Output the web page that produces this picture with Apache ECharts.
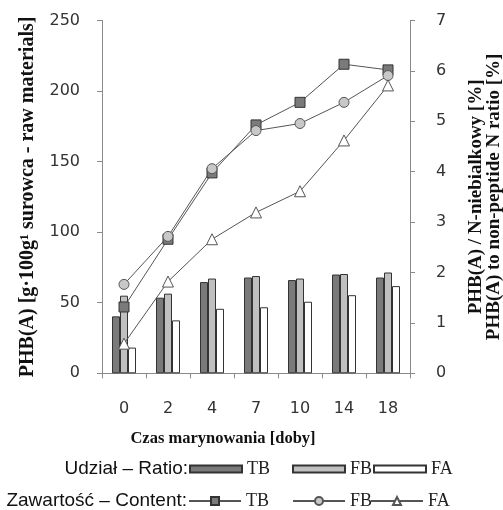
<!DOCTYPE html>
<html>
<head>
<meta charset="utf-8">
<script src="https://cdn.jsdelivr.net/npm/echarts@6/dist/echarts.min.js"></script>
<style>
html,body{margin:0;padding:0;background:#fff;}
#chart{width:503px;height:510px;}
</style>
</head>
<body>
<div id="chart"></div>
<script>
const categories = ['0', '2', '4', '7', '10', '14', '18'];
const ratioTB = [1.13, 1.50, 1.81, 1.90, 1.85, 1.96, 1.90];
const ratioFB = [1.54, 1.58, 1.88, 1.93, 1.88, 1.97, 2.00];
const ratioFA = [0.51, 1.05, 1.28, 1.31, 1.42, 1.55, 1.73];
const contentTB = [47, 95, 142, 176, 192, 219, 215];
const contentFB = [63, 97, 145, 172, 177, 192, 211];
const contentFA = [21, 65, 95, 114, 129, 165, 204];
const leftTicks = [0, 50, 100, 150, 200, 250];
const rightTicks = [0, 1, 2, 3, 4, 5, 6, 7];

const chart = echarts.init(document.getElementById('chart'), null, {renderer: 'canvas'});
const axisColor = '#8a8a8a';
const tickFont = {fontFamily: 'DejaVu Sans', fontSize: 16, color: '#333'};
const titleFont = {fontFamily: 'Liberation Serif', fontWeight: 'bold', color: '#111'};
const legText = {fontFamily: 'Liberation Serif', fontSize: 18, color: '#222'};
const lineColor = '#555';

function legendItem(name, left, top, h, icon) {
  const o = {
    data: [name], left: left, top: top, itemWidth: 52, itemHeight: h,
    formatter: function (n) { return n.split('-')[0]; },
    textStyle: legText, selectedMode: false, padding: 0
  };
  if (icon) o.icon = icon;
  return o;
}

chart.setOption({
  animation: false,
  backgroundColor: '#fff',
  grid: {left: 102, right: 93, top: 20.5, bottom: 136.7, containLabel: false, outerBoundsMode: 'none'},
  xAxis: {
    type: 'category', data: categories,
    axisLine: {lineStyle: {color: axisColor}},
    axisTick: {show: true, length: 5, lineStyle: {color: axisColor}},
    axisLabel: Object.assign({margin: 28}, tickFont),
    name: 'Czas marynowania [doby]', nameLocation: 'middle', nameGap: 57,
    nameTextStyle: Object.assign({fontSize: 16.5, padding: [0, 66, 0, 0]}, titleFont)
  },
  yAxis: [{
    type: 'value', min: 0, max: 250, interval: 50, position: 'left',
    axisLine: {show: true, lineStyle: {color: axisColor}},
    axisTick: {show: true, length: 5, lineStyle: {color: axisColor}},
    splitLine: {show: false},
    axisLabel: Object.assign({margin: 22, formatter: function (v) { return leftTicks.indexOf(v) >= 0 ? String(v) : ''; }}, tickFont),
    name: 'PHB(A) [g·100g¹ surowca - raw materials]', nameLocation: 'middle', nameGap: 64, nameRotate: 90,
    nameTextStyle: Object.assign({fontSize: 20}, titleFont)
  }, {
    type: 'value', min: 0, max: 7, interval: 1, position: 'right',
    axisLine: {show: true, lineStyle: {color: axisColor}},
    axisTick: {show: true, length: 5, lineStyle: {color: axisColor}},
    splitLine: {show: false},
    axisLabel: Object.assign({margin: 26, formatter: function (v) { return rightTicks.indexOf(v) >= 0 ? String(v) : ''; }}, tickFont),
    name: 'PHB(A) / N-niebialkowy [%]\nPHB(A) to non-peptide N ratio [%]', nameLocation: 'middle', nameGap: 57, nameRotate: 90,
    nameTextStyle: Object.assign({fontSize: 19, lineHeight: 18}, titleFont)
  }],
  legend: [
    legendItem('TB-bar', 189, 460, 7, 'rect'),
    legendItem('FB-bar', 292, 460, 7, 'rect'),
    legendItem('FA-bar', 373, 460, 7, 'rect'),
    legendItem('TB-line', 188, 492, 10),
    legendItem('FB-line', 292, 492, 10),
    legendItem('FA-line', 370, 492, 10)
  ],
  graphic: [
    {type: 'text', right: 503 - 188, top: 459, style: {text: 'Udział – Ratio:', fontFamily: 'Liberation Sans', fontSize: 19, fill: '#111'}},
    {type: 'text', right: 503 - 187, top: 491, style: {text: 'Zawartość – Content:', fontFamily: 'Liberation Sans', fontSize: 19, fill: '#111'}}
  ],
  series: [
    {name: 'TB-bar', type: 'bar', yAxisIndex: 1, data: ratioTB, barWidth: 8, barGap: '0%',
     itemStyle: {color: '#7a7a7a', borderColor: '#333', borderWidth: 1}},
    {name: 'FB-bar', type: 'bar', yAxisIndex: 1, data: ratioFB, barWidth: 8, barGap: '0%',
     itemStyle: {color: '#c0c0c0', borderColor: '#333', borderWidth: 1}},
    {name: 'FA-bar', type: 'bar', yAxisIndex: 1, data: ratioFA, barWidth: 8, barGap: '0%',
     itemStyle: {color: '#ffffff', borderColor: '#333', borderWidth: 1}},
    {name: 'TB-line', type: 'line', yAxisIndex: 0, data: contentTB, z: 5,
     symbol: 'rect', symbolSize: 10,
     lineStyle: {color: lineColor, width: 1},
     itemStyle: {color: '#7a7a7a', borderColor: '#333', borderWidth: 1}},
    {name: 'FB-line', type: 'line', yAxisIndex: 0, data: contentFB, z: 5,
     symbol: 'circle', symbolSize: 10,
     lineStyle: {color: lineColor, width: 1},
     itemStyle: {color: '#c8c8c8', borderColor: '#555', borderWidth: 1}},
    {name: 'FA-line', type: 'line', yAxisIndex: 0, data: contentFA, z: 5,
     symbol: 'triangle', symbolSize: 11,
     lineStyle: {color: lineColor, width: 1},
     itemStyle: {color: '#ffffff', borderColor: '#555', borderWidth: 1}}
  ]
});
</script>
</body>
</html>
